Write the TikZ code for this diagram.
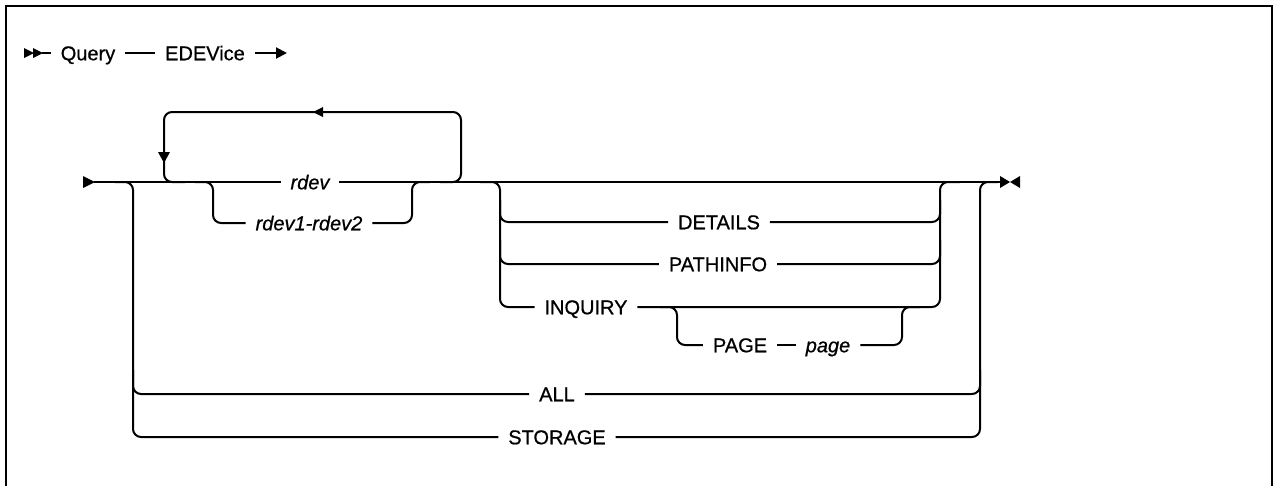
\documentclass[tikz,border=0pt]{standalone}
\usepackage{fontspec}
\setmainfont{Liberation Sans}[FakeBold=0.7]
\usetikzlibrary{arrows.meta}
\begin{document}
\begin{tikzpicture}[x=1pt,y=-1pt,line width=2pt,
  lbl/.style={font=\fontsize{20}{24}\selectfont, inner xsep=9pt, inner ysep=2pt, text height=14.5pt, text depth=0pt},
  var/.style={lbl, font=\fontsize{20}{24}\selectfont\itshape},
  rc/.style={rounded corners=8pt}]
\useasboundingbox (0,0) rectangle (1274,485);
% frame
\draw[line width=2.5pt] (6,486) -- (6,6) -- (1272,6) -- (1272,486);

% first line
\fill (24,48) -- (34,53) -- (24,58) -- cycle;
\fill (33,48) -- (43,53) -- (33,58) -- cycle;
\coordinate (s1) at (42,53);
\node[lbl] (query) at (88,53) {Query};
\node[lbl] (edev) at (205,53) {EDEVice};
\coordinate (s2) at (287,53);
\draw (s1) -- (query.west);
\draw (query.east) -- (edev.west);
\draw[-{Triangle[length=11pt,width=11pt]}] (edev.east) -- (s2);

% main line
\fill (83,176) -- (95,182) -- (83,188) -- cycle;
\coordinate (m0) at (94,182);
\coordinate (mend) at (1000,182);
\node[var] (rdev) at (310,182) {rdev};
\draw (m0) -- (rdev.west);
\draw (rdev.east) -- (mend);
\fill (1000,176) -- (1010,182) -- (1000,188) -- cycle;
\fill (1020,176) -- (1010,182) -- (1020,188) -- cycle;

% repeat loop
\draw[rc] (440,182) -- (461,182) -- (461,112) -- (164,112) -- (164,182) -- (185,182);
\fill (313,112) -- (323,107) -- (323,117) -- cycle;
\fill (164,163) -- (158,152) -- (170,152) -- cycle;

% rdev1-rdev2
\node[var] (rdevr) at (309,223) {rdev1-rdev2};
\draw[rc] (195,182) -- (213,182) -- (213,223) -- (rdevr.west);
\draw[rc] (rdevr.east) -- (412,223) -- (412,182) -- (430,182);

% outer ALL / STORAGE
\node[lbl] (all) at (557,394) {ALL};
\node[lbl] (stor) at (557,437) {STORAGE};
\draw[rc] (115,182) -- (133,182) -- (133,437) -- (stor.west);
\draw[rc] (133,370) -- (133,394) -- (all.west);
\draw[rc] (stor.east) -- (980,437) -- (980,182) -- (998,182);
\draw[rc] (all.east) -- (980,394) -- (980,370);

% options group
\node[lbl] (det) at (719,222) {DETAILS};
\node[lbl] (pinfo) at (718,264) {PATHINFO};
\node[lbl] (inq) at (586,307) {INQUIRY};
\node[lbl] (pagek) at (740,345) {PAGE};
\node[var] (pagev) at (828,345) {page};
\draw[rc] (480,182) -- (500,182) -- (500,307) -- (inq.west);
\draw[rc] (500,200) -- (500,222) -- (det.west);
\draw[rc] (500,240) -- (500,264) -- (pinfo.west);
\draw[rc] (det.east) -- (940,222) -- (940,200);
\draw[rc] (pinfo.east) -- (940,264) -- (940,240);
\draw[rc] (inq.east) -- (940,307) -- (940,182) -- (960,182);
\draw[rc] (660,307) -- (677,307) -- (677,345) -- (pagek.west);
\draw (pagek.east) -- (pagev.west);
\draw[rc] (pagev.east) -- (902,345) -- (902,307) -- (920,307);
\end{tikzpicture}
\end{document}
